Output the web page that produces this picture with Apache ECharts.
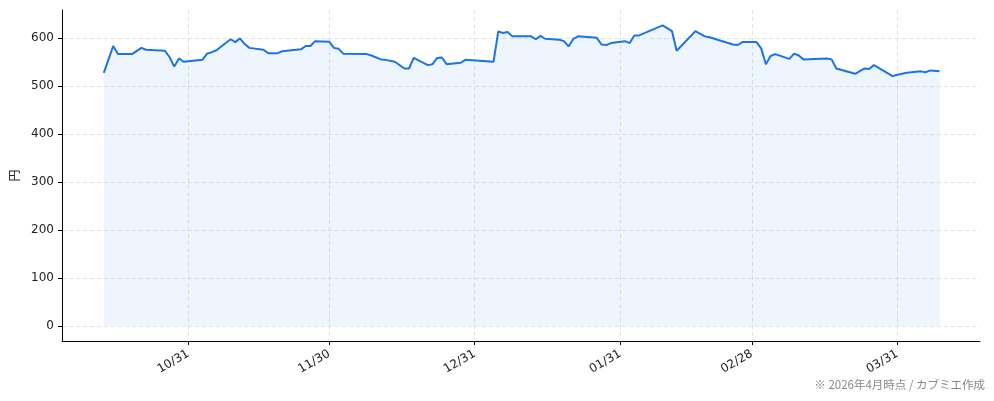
<!DOCTYPE html>
<html><head><meta charset="utf-8">
<script src="https://cdn.jsdelivr.net/npm/echarts@6/dist/echarts.min.js"></script>
<style>html,body{margin:0;padding:0;background:#fff}#c{width:994px;height:401px}</style>
</head><body><div id="c"></div>
<script>
const dates = ['2025-10-13','2025-10-15','2025-10-16','2025-10-19','2025-10-21','2025-10-22','2025-10-26','2025-10-27','2025-10-28','2025-10-29','2025-10-30',
'2025-11-03','2025-11-04','2025-11-05','2025-11-06','2025-11-09','2025-11-10','2025-11-11','2025-11-12','2025-11-13','2025-11-16','2025-11-17','2025-11-19','2025-11-20','2025-11-24','2025-11-25','2025-11-26','2025-11-27','2025-11-30',
'2025-12-01','2025-12-02','2025-12-03','2025-12-08','2025-12-09','2025-12-11','2025-12-12','2025-12-14','2025-12-16','2025-12-17','2025-12-18','2025-12-21','2025-12-22','2025-12-23','2025-12-24','2025-12-25','2025-12-28','2025-12-29',
'2026-01-04','2026-01-05','2026-01-06','2026-01-07','2026-01-08','2026-01-12','2026-01-13','2026-01-14','2026-01-15','2026-01-18','2026-01-19','2026-01-20','2026-01-21','2026-01-22','2026-01-26','2026-01-27','2026-01-28','2026-01-29',
'2026-02-01','2026-02-02','2026-02-03','2026-02-04','2026-02-09','2026-02-11','2026-02-12','2026-02-16','2026-02-18','2026-02-19','2026-02-24','2026-02-25','2026-02-26',
'2026-03-01','2026-03-02','2026-03-03','2026-03-04','2026-03-05','2026-03-08','2026-03-09','2026-03-10','2026-03-11','2026-03-16','2026-03-17','2026-03-18','2026-03-22','2026-03-24','2026-03-25','2026-03-26','2026-03-30','2026-03-31',
'2026-04-02','2026-04-05','2026-04-06','2026-04-07','2026-04-09'];
const prices = [528,584,567,567,580,576,574,561,541,558,551,
555,568,571,575,598,592,600,588,580,576,569,569,573,577,584,584,594,593,
580,578,568,567,564,556,555,551,537,537,559,544,546,559,560,546,549,555,
551,614,611,613,604,604,598,605,599,597,594,583,599,604,601,587,586,590,
594,590,606,606,627,615,574,615,604,602,587,586,592,
592,579,546,563,567,557,568,564,556,558,556,537,526,537,536,544,521,524,
528,531,529,533,531];
const xTickDates = ['2025-10-31','2025-11-30','2025-12-31','2026-01-31','2026-02-28','2026-03-31'];
const yTicks = [0,100,200,300,400,500,600];
const yLabel = '円';
const footnote = '※ 2026年4月時点 / カブミエ作成';

// dates -> day numbers (days since 1970-01-01, UTC)
const dayNum = s => { const [y,m,d] = s.split('-').map(Number); return Date.UTC(y, m-1, d) / 86400000; };
const seriesData = dates.map((d,i) => [dayNum(d), prices[i]]);
const xTicks = xTickDates.map(dayNum);
const FONT = '"DejaVu Sans", "Noto Sans CJK JP", sans-serif';
const fmtDay = v => { const d = new Date(Math.round(v) * 86400000); return String(d.getUTCMonth()+1).padStart(2,'0') + '/' + String(d.getUTCDate()).padStart(2,'0'); };

const chart = echarts.init(document.getElementById('c'), null, {renderer:'canvas'});
chart.setOption({
  animation: false,
  backgroundColor: '#fff',
  grid: {left: 62, right: 14, top: 10, bottom: 60, containLabel: false},
  xAxis: {
    type: 'value',
    min: dayNum('2025-10-04') + 0.1,
    max: dayNum('2026-04-17') + 0.6,
    axisLine: {show: true, onZero: false, lineStyle: {color: '#000', width: 1}},
    axisTick: {show: true, length: 4, lineStyle: {color: '#000'}, customValues: xTicks},
    axisLabel: {
      customValues: xTicks, rotate: 30, margin: 12, color: '#222', fontSize: 12, fontFamily: FONT,
      formatter: fmtDay
    },
    splitLine: {show: true, lineStyle: {color: '#e2e2e2', type: [4,3], width: 1}}
  },
  yAxis: {
    type: 'value',
    min: -31.4, max: 659,
    name: yLabel, nameLocation: 'middle', nameGap: 39, nameRotate: 90,
    nameTextStyle: {color: '#222', fontSize: 12, fontFamily: '"Noto Sans CJK JP", sans-serif'},
    axisLine: {show: true, onZero: false, lineStyle: {color: '#000', width: 1}},
    axisTick: {show: true, length: 4, lineStyle: {color: '#000'}, customValues: yTicks},
    axisLabel: {customValues: yTicks, color: '#222', fontSize: 12, fontFamily: FONT, margin: 8},
    splitLine: {show: true, lineStyle: {color: '#e2e2e2', type: [4,3], width: 1}}
  },
  series: [{
    type: 'line',
    data: seriesData,
    showSymbol: false,
    symbol: 'none',
    lineStyle: {color: '#1a73e8', width: 2},
    areaStyle: {color: 'rgba(26,115,232,0.1)', origin: 0},
    z: 3
  }],
  graphic: [{
    type: 'text', right: 9, bottom: 11,
    style: {text: footnote, fill: '#888', fontSize: 11.5, fontFamily: '"Noto Sans CJK JP", sans-serif'}
  }]
});
</script></body></html>
